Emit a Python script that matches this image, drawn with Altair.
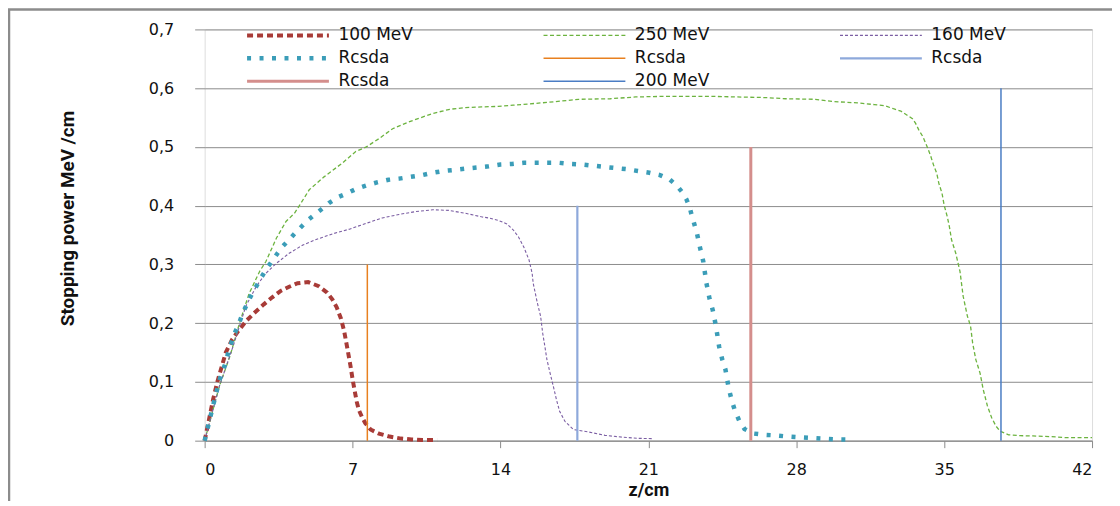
import altair as alt
import pandas as pd

# ---- data ----
keys = ["100 MeV", "250 MeV", "160 MeV", "Rcsda#1", "Rcsda#2", "Rcsda#3", "Rcsda#4", "200 MeV"]
colors = ["#A83B37", "#6CB33F", "#7B5EA3", "#3B9DB8", "#E8801F", "#8EA9DB", "#D48E8C", "#4A7DC4"]
dashes = [[6, 4], [4, 2.5], [3, 2], [4, 8.5], [1, 0], [1, 0], [1, 0], [1, 0]]
widths = [4, 1.3, 1.1, 4.5, 1.5, 2.2, 3, 1.5]

z_100 = [0, 0.2, 0.4, 0.6, 0.8, 1.0, 1.3, 1.6, 2.0, 2.4, 2.8, 3.2, 3.6, 4.0, 4.4, 4.9, 5.4, 5.8, 6.05,
         6.25, 6.45, 6.6, 6.75, 6.9, 7.0, 7.1, 7.2, 7.3, 7.45, 7.6, 7.85, 8.25, 8.75, 9.3, 9.8, 10.3, 11.0]
s_100 = [0, 0.035, 0.07, 0.1, 0.125, 0.15, 0.172, 0.187, 0.205, 0.219, 0.232, 0.244, 0.255, 0.262, 0.268,
         0.27, 0.263, 0.252, 0.24, 0.227, 0.208, 0.187, 0.158, 0.128, 0.105, 0.085, 0.066, 0.052, 0.04,
         0.03, 0.019, 0.012, 0.007, 0.0035, 0.002, 0.001, 0.001]

z_250 = [0, 0.7, 1.2, 1.65, 2.1, 2.6, 2.9, 3.4, 3.85, 4.25, 4.5, 4.95, 5.65, 6.5, 7.15, 7.65, 8.25, 8.9,
         9.7, 10.8, 11.6, 12.35, 13.1, 13.9, 14.6, 15.3, 16.6, 17.7, 19.2, 20.4, 21.6, 24.0, 26.5, 27.5,
         28.9, 29.8, 30.9, 31.7, 32.2, 32.6, 32.95, 33.25, 33.5, 33.65, 33.8, 34.0, 34.2, 34.35, 34.5,
         34.65, 34.75, 34.9, 35.0, 35.15, 35.25, 35.35, 35.55, 35.75, 35.9, 36.0, 36.1, 36.25, 36.35,
         36.5, 36.7, 36.85, 37.05, 37.25, 37.45, 37.65, 38.05, 38.6, 39.2, 40.0, 40.8, 42.0]
s_250 = [0, 0.093, 0.144, 0.2, 0.25, 0.288, 0.305, 0.345, 0.373, 0.387, 0.401, 0.427, 0.449, 0.472,
         0.492, 0.5, 0.514, 0.531, 0.543, 0.557, 0.564, 0.567, 0.568, 0.569, 0.571, 0.573, 0.577, 0.581,
         0.582, 0.585, 0.586, 0.586, 0.584, 0.582, 0.581, 0.577, 0.575, 0.572, 0.57, 0.565, 0.561, 0.554,
         0.548, 0.54, 0.529, 0.517, 0.5, 0.486, 0.469, 0.455, 0.438, 0.421, 0.401, 0.381, 0.364, 0.342,
         0.319, 0.288, 0.246, 0.229, 0.212, 0.195, 0.166, 0.138, 0.115, 0.087, 0.059, 0.039, 0.025,
         0.016, 0.01, 0.0085, 0.008, 0.007, 0.005, 0.005]

z_160 = [0, 0.7, 1.35, 1.95, 2.45, 2.9, 3.4, 4.0, 4.65, 5.25, 6.05, 6.85, 7.65, 8.4, 9.2, 10.0, 10.8,
         11.55, 12.35, 13.1, 13.45, 13.9, 14.3, 14.6, 14.85, 15.1, 15.35, 15.5, 15.55, 15.65, 15.75,
         15.9, 16.0, 16.1, 16.2, 16.35, 16.5, 16.65, 16.8, 17.05, 17.45, 18.15, 18.95, 19.75, 20.5, 21.25]
s_160 = [0, 0.093, 0.161, 0.229, 0.263, 0.285, 0.302, 0.319, 0.333, 0.342, 0.352, 0.36, 0.37, 0.379,
         0.385, 0.39, 0.393, 0.392, 0.387, 0.381, 0.379, 0.375, 0.369, 0.359, 0.347, 0.33, 0.308, 0.285,
         0.268, 0.251, 0.234, 0.212, 0.183, 0.161, 0.138, 0.115, 0.093, 0.07, 0.05, 0.033, 0.019, 0.015,
         0.009, 0.006, 0.004, 0.0034]

z_rc1 = [0, 0.24, 0.47, 0.71, 0.94, 1.18, 1.42, 1.6, 1.8, 2.0, 2.2, 2.45, 2.7, 2.95, 3.2, 3.45, 3.7, 4.0,
         4.3, 4.6, 4.9, 5.25, 5.6, 5.9, 6.35, 6.8, 7.2, 7.7, 8.2, 8.7, 9.2, 9.75, 10.3, 10.8, 11.3, 11.85,
         12.35, 12.9, 13.45, 14.0, 14.55, 15.1, 15.6, 16.2, 16.75, 17.3, 17.9, 18.4, 18.9, 19.45, 20.0,
         20.5, 21.05, 21.55, 22.0, 22.35, 22.6, 22.8, 22.95, 23.05, 23.15, 23.3, 23.45, 23.6, 23.75, 23.9,
         24.05, 24.2, 24.35, 24.5, 24.65, 24.8, 24.95, 25.1, 25.3, 25.55, 26.0, 26.5, 27.0, 27.6, 28.15,
         28.7, 29.25, 29.8, 30.4]
s_rc1 = [0, 0.036, 0.07, 0.104, 0.127, 0.158, 0.183, 0.197, 0.217, 0.232, 0.247, 0.263, 0.279, 0.294,
         0.306, 0.319, 0.331, 0.342, 0.354, 0.365, 0.376, 0.386, 0.396, 0.405, 0.415, 0.422, 0.429, 0.435,
         0.44, 0.444, 0.446, 0.449, 0.452, 0.456, 0.459, 0.461, 0.463, 0.465, 0.467, 0.47, 0.471, 0.473,
         0.473, 0.473, 0.473, 0.471, 0.47, 0.468, 0.466, 0.464, 0.462, 0.459, 0.456, 0.452, 0.445, 0.434,
         0.423, 0.411, 0.398, 0.384, 0.372, 0.353, 0.328, 0.305, 0.268, 0.241, 0.222, 0.195, 0.16, 0.138,
         0.121, 0.09, 0.068, 0.051, 0.034, 0.02, 0.012, 0.01, 0.009, 0.007, 0.0057, 0.0045, 0.0034,
         0.0023, 0.002]

z_rc2 = [7.70, 7.70]
s_rc2 = [0, 0.3]
z_rc3 = [17.64, 17.64]
s_rc3 = [0, 0.4]
z_rc4 = [25.85, 25.85]
s_rc4 = [0, 0.5]
z_200 = [37.69, 37.69]
s_200 = [0, 0.6]

x_ticks = [0, 7, 14, 21, 28, 35, 42]
y_ticks = [0, 0.1, 0.2, 0.3, 0.4, 0.5, 0.6, 0.7]

series = [
    ("100 MeV", z_100, s_100),
    ("250 MeV", z_250, s_250),
    ("160 MeV", z_160, s_160),
    ("Rcsda#1", z_rc1, s_rc1),
    ("Rcsda#2", z_rc2, s_rc2),
    ("Rcsda#3", z_rc3, s_rc3),
    ("Rcsda#4", z_rc4, s_rc4),
    ("200 MeV", z_200, s_200),
]
rows = []
for k, zs, ss in series:
    for i, (zv, sv) in enumerate(zip(zs, ss)):
        rows.append({"key": k, "z": zv, "s": sv, "i": i})
df = pd.DataFrame(rows)

W, H = 889, 412

lines = alt.Chart(df).mark_line(interpolate="linear").encode(
    x=alt.X("z:Q",
            scale=alt.Scale(domain=[0, 42], nice=False, zero=False),
            axis=alt.Axis(values=x_ticks, title="z/cm", grid=False, tickSize=7,
                          labelFontSize=16, labelPadding=14, labelFont="DejaVu Sans",
                          labelColor="#111", titleFont="Roboto",
                          titleFontSize=18, titleFontWeight="bold", titleColor="#111",
                          titleX=W / 2, titleY=50, titleBaseline="middle",
                          domainColor="#8C8C8C", tickColor="#8C8C8C")),
    y=alt.Y("s:Q",
            scale=alt.Scale(domain=[0, 0.7], nice=False),
            axis=alt.Axis(values=y_ticks, title="Stopping power MeV /cm", domain=False,
                          tickSize=10, tickColor="#8C8C8C", gridColor="#8C8C8C",
                          labelFontSize=16, labelFont="DejaVu Sans", labelPadding=21,
                          labelColor="#111",
                          labelExpr="datum.value == 0 ? '0' : replace(format(datum.value, '.1f'), '.', ',')",
                          titleFont="Roboto", titleFontSize=19,
                          titleFontWeight="bold", titleColor="#111",
                          titleX=-137, titleY=189, titleBaseline="middle")),
    color=alt.Color("key:N",
                    scale=alt.Scale(domain=keys, range=colors),
                    legend=alt.Legend(title=None, orient="none", legendX=40, legendY=-4,
                                      direction="horizontal",
                                      columns=3, symbolType="stroke", symbolSize=82 * 82,
                                      clipHeight=20, rowPadding=3, columnPadding=128,
                                      labelFont="DejaVu Sans", labelFontSize=17, labelColor="#111",
                                      labelOffset=7, padding=0, gridAlign="all",
                                      labelExpr="split(datum.label, '#')[0]")),
    strokeDash=alt.StrokeDash("key:N", scale=alt.Scale(domain=keys, range=dashes), legend=alt.Legend(title=None)),
    strokeWidth=alt.StrokeWidth("key:N", scale=alt.Scale(type="ordinal", domain=keys, range=widths), legend=alt.Legend(title=None)),
    detail="key:N",
    order="i:Q",
)

border = alt.Chart(pd.DataFrame({"b": [0]})).mark_rect(
    filled=False, stroke="#8C8C8C", strokeWidth=2.5
).encode(x=alt.value(-196), x2=alt.value(1000), y=alt.value(-20), y2=alt.value(600))

chart = alt.layer(border, lines).properties(
    width=W, height=H,
    autosize=alt.AutoSizeParams(type="none"),
    padding={"left": 197, "top": 21, "right": 20, "bottom": 60},
).configure_view(stroke=None).configure(background="white")

chart.save("out.html", embed_options={"renderer": "svg", "actions": False})
